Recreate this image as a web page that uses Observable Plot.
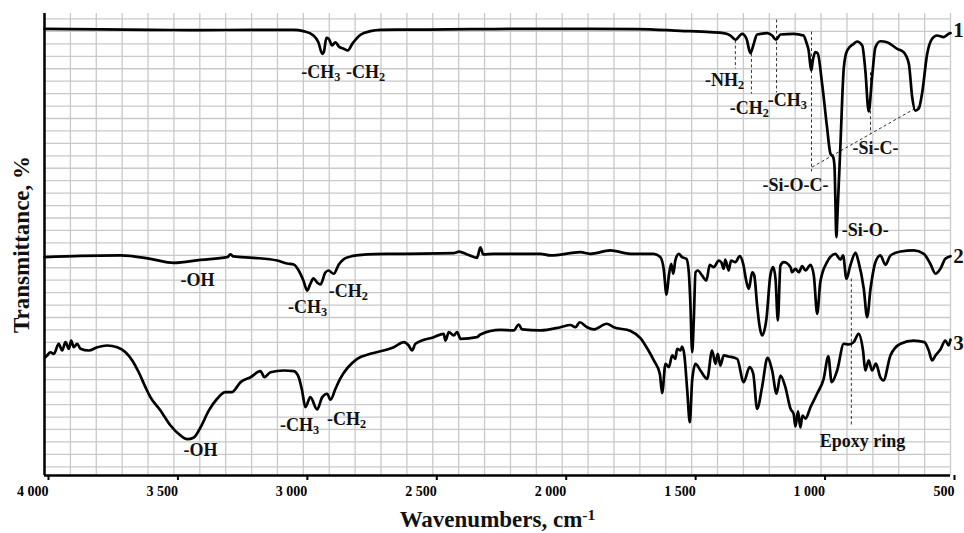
<!DOCTYPE html>
<html>
<head>
<meta charset="utf-8">
<script src="https://cdn.jsdelivr.net/npm/d3@7"></script>
<script src="https://cdn.jsdelivr.net/npm/@observablehq/plot@0.6"></script>
<style>
  html, body { margin: 0; padding: 0; background: #fff; }
  #chart { width: 964px; height: 533px; }
</style>
</head>
<body>
<div id="chart"></div>
<script>
// IR spectra: [wavenumber (cm-1), transmittance (grid units, offset per sample)]
const spectrum1 = [
  [4000,35.21],[3784,35.17],[3591,35.13],[3397,35.10],[3204,35.13],[3038,35.13],[3000,35.02],
  [2961,34.67],[2942,34.13],[2927,33.20],[2921,33.33],[2911,34.49],[2902,34.41],[2889,33.87],
  [2876,34.13],[2863,33.79],[2844,33.60],[2828,33.47],[2811,34.00],[2779,34.73],[2741,35.02],
  [2702,35.13],[2522,35.15],[2264,35.19],[2007,35.21],[1711,35.19],[1543,35.05],[1427,34.94],
  [1377,34.86],[1350,34.67],[1331,34.33],[1305,34.81],[1288,34.41],[1273,33.25],[1262,33.87],
  [1247,34.75],[1208,34.86],[1189,34.67],[1174,34.33],[1157,34.75],[1106,34.81],[1068,34.67],
  [1057,34.13],[1048,33.47],[1038,31.86],[1032,32.66],[1022,33.33],[1013,33.23],[996,30.79],
  [977,27.30],[964,25.19],[953,24.89],[948,24.09],[945,21.67],[941,18.46],[936,20.60],
  [925,25.99],[912,32.12],[899,33.47],[874,34.00],[861,34.19],[841,33.87],[829,31.86],
  [816,28.56],[803,31.32],[790,33.73],[771,34.21],[745,34.13],[706,33.60],[681,33.33],
  [661,32.40],[648,29.71],[636,28.64],[623,28.78],[610,29.99],[590,33.20],[571,34.41],
  [552,34.67],[526,34.54],[507,34.81],[500,34.87]
];

const spectrum2 = [
  [4000,16.85],[3861,16.95],[3706,16.99],[3591,16.72],[3501,16.40],[3397,16.64],[3294,16.85],
  [3282,17.07],[3270,16.91],[3193,16.80],[3101,16.58],[3063,16.34],[3037,16.26],[3018,15.78],
  [3000,14.98],[2985,14.17],[2974,14.66],[2961,15.14],[2947,14.82],[2934,14.66],[2915,15.62],
  [2903,15.78],[2883,15.52],[2863,16.26],[2831,16.83],[2754,17.07],[2652,17.12],[2420,17.17],
  [2399,17.29],[2367,17.07],[2329,16.80],[2316,17.65],[2305,17.07],[2266,17.12],[2084,17.12],
  [2045,16.99],[1930,17.25],[1891,17.12],[1814,17.39],[1736,17.12],[1646,17.12],[1621,16.85],
  [1608,15.92],[1597,13.83],[1588,15.38],[1579,16.32],[1571,15.52],[1563,16.58],[1550,17.12],
  [1537,16.85],[1520,16.72],[1511,15.64],[1505,13.23],[1498,9.21],[1492,11.62],[1485,15.64],
  [1476,15.78],[1460,15.38],[1443,14.98],[1430,16.24],[1415,16.05],[1395,16.58],[1385,16.42],
  [1376,15.92],[1370,16.66],[1357,15.78],[1348,16.58],[1331,16.45],[1314,16.93],[1301,16.32],
  [1288,14.84],[1279,14.31],[1266,15.64],[1258,15.38],[1247,12.97],[1238,11.36],[1228,10.56],
  [1211,11.90],[1196,15.38],[1185,16.05],[1176,15.11],[1167,11.76],[1157,16.18],[1144,16.45],
  [1118,16.05],[1112,15.64],[1099,15.92],[1086,15.64],[1073,16.13],[1060,15.78],[1041,16.24],
  [1028,15.38],[1015,12.30],[1003,14.84],[977,16.45],[945,17.12],[925,16.66],[915,16.99],
  [902,15.11],[887,16.18],[867,17.20],[855,16.45],[835,14.31],[822,12.03],[809,14.31],
  [790,16.45],[771,16.99],[751,16.24],[732,16.99],[693,17.31],[642,17.39],[603,17.12],
  [578,16.32],[558,15.52],[539,15.92],[520,16.72],[500,16.93]
];

const spectrum3 = [
  [3998,8.79],[3990,8.95],[3977,9.21],[3964,9.08],[3945,9.89],[3932,9.35],[3919,10.02],
  [3906,9.49],[3897,10.15],[3887,9.61],[3874,9.89],[3861,9.49],[3829,9.35],[3796,9.61],
  [3758,9.75],[3719,9.61],[3687,9.21],[3661,8.55],[3636,7.60],[3610,6.40],[3591,5.60],
  [3552,4.53],[3513,3.32],[3475,2.52],[3449,2.22],[3423,2.36],[3397,3.18],[3365,4.53],
  [3333,5.47],[3301,6.00],[3275,6.00],[3262,6.27],[3243,6.80],[3204,7.20],[3166,7.69],
  [3150,7.20],[3127,7.60],[3076,7.74],[3037,7.69],[3018,7.20],[3005,6.13],[2992,4.79],
  [2973,5.60],[2947,4.61],[2927,5.60],[2908,5.87],[2895,5.39],[2876,6.27],[2857,7.10],
  [2792,8.68],[2741,9.08],[2651,9.61],[2612,10.02],[2593,9.75],[2580,9.35],[2567,9.89],
  [2496,10.42],[2458,10.69],[2451,10.15],[2438,10.82],[2419,10.56],[2406,10.82],[2393,10.29],
  [2329,10.42],[2316,10.64],[2239,11.00],[2187,10.96],[2168,11.44],[2155,11.04],[2084,10.96],
  [2007,11.22],[1968,11.40],[1949,11.22],[1932,11.62],[1904,11.22],[1878,11.04],[1828,11.50],
  [1801,11.22],[1736,10.92],[1698,10.35],[1669,9.43],[1646,8.55],[1623,7.48],[1614,5.93],
  [1601,8.28],[1588,8.01],[1575,8.95],[1563,8.68],[1556,9.49],[1543,9.35],[1537,9.67],
  [1528,8.95],[1517,6.13],[1507,3.59],[1498,6.94],[1485,8.28],[1466,7.74],[1440,7.07],
  [1421,9.35],[1408,8.28],[1399,9.08],[1389,8.14],[1376,8.95],[1357,8.87],[1324,8.68],
  [1299,6.80],[1276,8.01],[1262,7.48],[1247,4.66],[1228,6.40],[1207,8.75],[1189,7.74],
  [1172,5.87],[1157,7.34],[1138,6.40],[1118,4.66],[1106,4.26],[1099,3.24],[1089,4.45],
  [1080,3.16],[1072,4.12],[1060,3.88],[1041,4.79],[1015,5.89],[990,7.07],[972,8.87],
  [959,6.80],[938,7.74],[912,9.89],[893,9.83],[874,10.02],[855,10.69],[838,9.35],
  [829,7.74],[816,8.55],[803,7.74],[788,8.30],[771,7.18],[759,6.94],[732,8.95],[693,9.89],
  [642,10.15],[601,10.02],[584,9.35],[571,8.55],[558,8.95],[539,9.43],[520,10.15],
  [507,9.75],[500,10.23]
];

// Band assignments: text and centre position [wavenumber, transmittance]
const bandLabels = [
  {wn: 2933, t: 31.70, text: "-CH_3"},
  {wn: 2760, t: 31.70, text: "-CH_2"},
  {wn: 1373, t: 31.06, text: "-NH_2"},
  {wn: 1277, t: 28.80, text: "-CH_2"},
  {wn: 1130, t: 29.45, text: "-CH_3"},
  {wn: 1099, t: 22.61, text: "-Si-O-C-"},
  {wn: 790,  t: 25.59, text: "-Si-C-"},
  {wn: 829,  t: 19.00, text: "-Si-O-"},
  {wn: 3409, t: 14.98, text: "-OH"},
  {wn: 2984, t: 12.81, text: "-CH_3"},
  {wn: 2826, t: 14.09, text: "-CH_2"},
  {wn: 3015, t: 3.32,  text: "-CH_3"},
  {wn: 2833, t: 3.80,  text: "-CH_2"},
  {wn: 3397, t: 1.31,  text: "-OH"},
  {wn: 840,  t: 2.03,  text: "Epoxy ring"}
];

// Dashed leader lines from the bands to their labels
const leaders = [
  {wn1: 1331, t1: 34.3,  wn2: 1331, t2: 32.02},
  {wn1: 1269, t1: 33.23, wn2: 1269, t2: 30.01},
  {wn1: 1172, t1: 35.96, wn2: 1172, t2: 30.09},
  {wn1: 1037, t1: 34.99, wn2: 1037, t2: 23.74},
  {wn1: 1035, t1: 24.09, wn2: 616,  t2: 29.05},
  {wn1: 809,  t1: 31.72, wn2: 809,  t2: 26.79},
  {wn1: 883,  t1: 15.14, wn2: 883,  t2: 3.32}
];

// Sample numbers at the right end of each spectrum
const sampleNames = ["1", "2", "3"];
const sampleLevels = [35.07, 16.91, 9.91];

const xTicks = [4000, 3500, 3000, 2500, 2000, 1500, 1000, 500];
const xGrid = d3.range(500, 4001, 100);
const yGrid = d3.range(0, 37);
const yDomain = [-0.7, 36.44];

const tickFormat = d => d >= 1000
  ? `${Math.floor(d / 1000)} ${String(d % 1000).padStart(3, "0")}`
  : `${d}`;

const lineStyle = {
  x: d => d[0], y: d => d[1], curve: "monotone-x",
  stroke: "#000", strokeWidth: 2.7, strokeLinejoin: "round", strokeLinecap: "round"
};

const chart = Plot.plot({
  width: 964,
  height: 533,
  marginLeft: 44,
  marginRight: 14,
  marginTop: 13,
  marginBottom: 58,
  style: {fontFamily: "'Liberation Serif', 'Times New Roman', serif", background: "#fff", overflow: "visible"},
  x: {domain: [4000, 500]},
  y: {domain: yDomain, axis: null},
  marks: [
    Plot.gridX(xGrid, {stroke: "#c9c9c9", strokeOpacity: 1, strokeWidth: 1.3}),
    Plot.gridY(yGrid, {stroke: "#c9c9c9", strokeOpacity: 1, strokeWidth: 1.3}),
    Plot.link(leaders, {x1: "wn1", y1: "t1", x2: "wn2", y2: "t2", stroke: "#333", strokeWidth: 1, strokeDasharray: "3,2.5"}),
    Plot.line(spectrum1, lineStyle),
    Plot.line(spectrum2, lineStyle),
    Plot.line(spectrum3, lineStyle),
    Plot.ruleX([4000], {y1: yDomain[0], y2: yDomain[1], stroke: "#000", strokeWidth: 2.5}),
    Plot.ruleY([yDomain[0]], {stroke: "#000", strokeWidth: 2.5}),
    Plot.axisX({
      ticks: xTicks, tickFormat, tickSize: 5, tickPadding: 6, strokeWidth: 2,
      fontSize: 14, fontWeight: "bold", textAnchor: "end", dx: 4, label: null
    }),
    Plot.text(bandLabels, {x: "wn", y: "t", text: "text", fontSize: 18, fontWeight: "bold", fill: "#111"}),
    Plot.text(sampleNames, {x: 489, y: (d, i) => sampleLevels[i], text: d => d, textAnchor: "start", fontSize: 21, fontWeight: "bold", fill: "#111"}),
    Plot.text(["Wavenumbers, cm^-1"], {frameAnchor: "bottom", dy: 51, fontSize: 23, fontWeight: "bold", fill: "#111"}),
    Plot.text(["Transmittance, %"], {frameAnchor: "left", textAnchor: "middle", dx: -23, rotate: -90, fontSize: 23, fontWeight: "bold", fill: "#111"})
  ]
});

// Turn "_n" into subscripts and "^n" into superscripts
d3.select(chart).selectAll("text").each(function () {
  const s = this.textContent;
  if (!/[_^]/.test(s)) return;
  const el = d3.select(this);
  el.text(null);
  const re = /([_^])(-?\d+)/g;
  let last = 0, m;
  while ((m = re.exec(s))) {
    if (m.index > last) el.append("tspan").text(s.slice(last, m.index));
    el.append("tspan")
      .attr("font-size", "68%")
      .attr("baseline-shift", m[1] === "_" ? "-25%" : "45%")
      .text(m[2]);
    last = re.lastIndex;
  }
  if (last < s.length) el.append("tspan").text(s.slice(last));
});

document.getElementById("chart").appendChild(chart);
</script>
</body>
</html>
